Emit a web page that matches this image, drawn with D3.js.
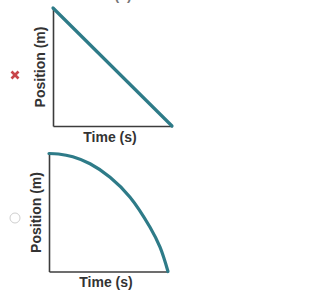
<!DOCTYPE html>
<html>
<head>
<meta charset="utf-8">
<script src="https://cdn.jsdelivr.net/npm/d3@7"></script>
<style>
  html, body { margin: 0; padding: 0; background: #fff; }
  text { font-family: "Liberation Sans", Arial, sans-serif; }
</style>
</head>
<body>
<div id="chart"></div>
<script>
// answer choices: position vs time sketches (normalised units)
const linearTime = [0, 1]
const linearPos = [1, 0]

const curveTime = [0, 0.08, 0.2, 0.345, 0.513, 0.681, 0.849, 0.933, 1]
const curvePos = [1, 0.996, 0.972, 0.913, 0.799, 0.63, 0.375, 0.206, 0]

const xLabel = 'Time (s)'
const yLabel = 'Position (m)'

const w = 331
const h = 299
const lineColor = '#2e7b88'
const axisColor = '#3c3c3c'

const svg = d3.select('#chart')
  .append('svg')
  .attr('width', w)
  .attr('height', h)

// cropped caption from above the first panel
svg.append('text')
  .attr('x', 123)
  .attr('y', 0)
  .attr('text-anchor', 'middle')
  .style('font-size', '14px')
  .style('font-weight', 'bold')
  .style('fill', '#777')
  .text('(a)')

function drawPanel(left, top, size, times, positions) {
  const x = d3.scaleLinear().domain([0, 1]).range([left, left + size.w])
  const y = d3.scaleLinear().domain([0, 1]).range([top + size.h, top])

  const g = svg.append('g')

  const xAxis = g.append('g')
    .attr('transform', `translate(0,${top + size.h})`)
    .call(d3.axisBottom(x).tickValues([]).tickSizeOuter(0))
  const yAxis = g.append('g')
    .attr('transform', `translate(${left},0)`)
    .call(d3.axisLeft(y).tickValues([]).tickSizeOuter(0))
  ;[xAxis, yAxis].forEach(a => a.select('.domain')
    .attr('stroke', axisColor)
    .attr('stroke-width', 1.6))

  const pts = times.map((t, i) => [t, positions[i]])
  const line = d3.line()
    .x(d => x(d[0]))
    .y(d => y(d[1]))
    .curve(d3.curveCatmullRom.alpha(0.5))

  g.append('path')
    .datum(pts)
    .attr('d', line)
    .attr('fill', 'none')
    .attr('stroke', lineColor)
    .attr('stroke-width', 3.2)
    .attr('stroke-linecap', 'round')

  g.append('text')
    .attr('x', left + size.w / 2 - 2.5)
    .attr('y', top + size.h + 15.5)
    .attr('text-anchor', 'middle')
    .style('font-size', '14px')
    .style('font-weight', 'bold')
    .style('fill', '#333')
    .text(xLabel)

  g.append('text')
    .attr('transform', `translate(${left - 13},${top + size.h / 2}) rotate(-90)`)
    .attr('text-anchor', 'middle')
    .attr('dy', '0.35em')
    .style('font-size', '14px')
    .style('font-weight', 'bold')
    .style('fill', '#333')
    .text(yLabel)
}

const size = { w: 119, h: 118 }
drawPanel(53, 8, size, linearTime, linearPos)
drawPanel(49, 153.5, size, curveTime, curvePos)

// wrong-answer mark
const mark = svg.append('g').attr('transform', 'translate(15,75)')
mark.append('line').attr('x1', -3.5).attr('y1', -3.5).attr('x2', 3.5).attr('y2', 3.5)
mark.append('line').attr('x1', -3.5).attr('y1', 3.5).attr('x2', 3.5).attr('y2', -3.5)
mark.selectAll('line')
  .attr('stroke', '#c8454a')
  .attr('stroke-width', 2.6)

// unselected radio button
svg.append('circle')
  .attr('cx', 15)
  .attr('cy', 218)
  .attr('r', 5)
  .attr('fill', '#fff')
  .attr('stroke', '#cfcfcf')
  .attr('stroke-width', 1)
</script>
</body>
</html>
